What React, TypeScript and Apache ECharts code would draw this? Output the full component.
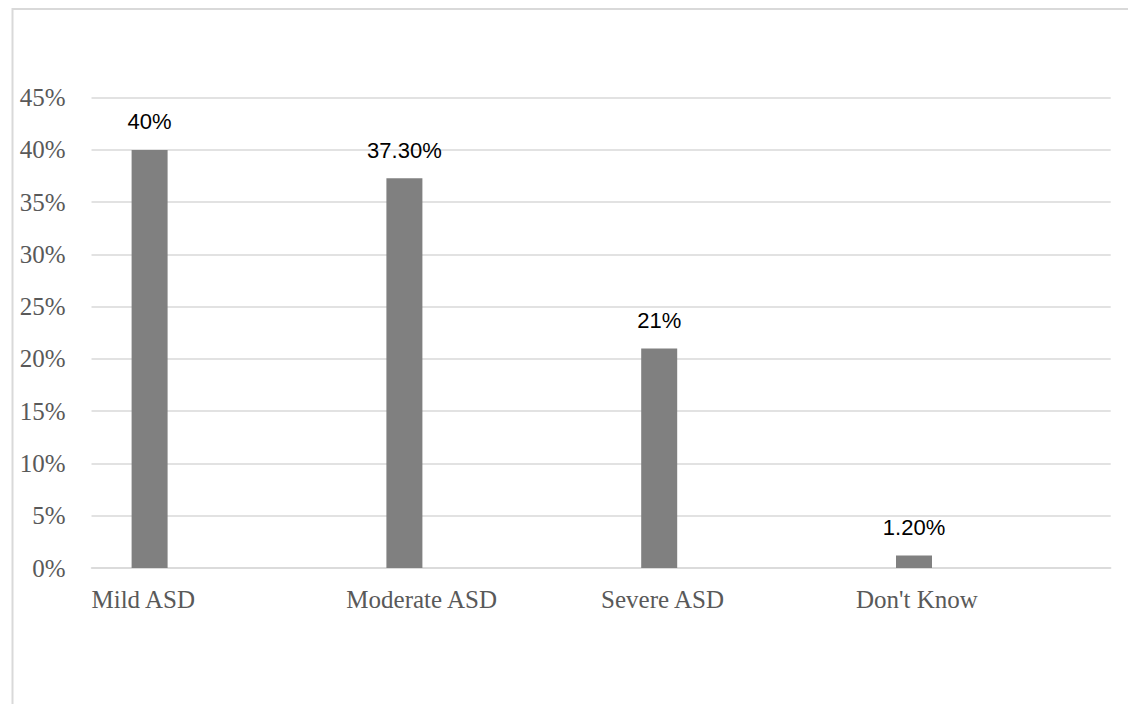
import React, { useEffect, useRef } from "react";
import * as echarts from "echarts";

const categories = ["Mild ASD", "Moderate ASD", "Severe ASD", "Don't Know"];
const values = [40, 37.3, 21, 1.2];
const valueLabels = ["40%", "37.30%", "21%", "1.20%"];
const yTicks = { min: 0, max: 45, interval: 5 };

export default function App() {
  const ref = useRef<HTMLDivElement>(null);
  useEffect(() => {
    if (!ref.current) return;
    const chart = echarts.init(ref.current, null, { renderer: "svg" });
    const grid = { left: 91.5, right: 17.3, top: 97.7, bottom: 136 };
    chart.setOption({
      animation: false,
      backgroundColor: "#ffffff",
      grid,
      graphic: [
        {
          type: "rect",
          shape: { x: 12.5, y: 9, width: 1300, height: 900 },
          style: { fill: "none", stroke: "#d9d9d9", lineWidth: 2 },
          silent: true,
        },
      ],
      xAxis: [
        {
          type: "category",
          data: categories,
          boundaryGap: true,
          axisLine: { show: true, lineStyle: { color: "#d9d9d9", width: 1.5 } },
          axisTick: { show: false },
          axisLabel: { show: false },
        },
        {
          type: "category",
          data: [...categories, ""],
          boundaryGap: false,
          position: "bottom",
          axisLine: { show: false },
          axisTick: { show: false },
          splitLine: { show: false },
          axisLabel: {
            interval: 0,
            align: "left",
            margin: 19,
            color: "#595959",
            fontFamily: "Liberation Serif",
            fontSize: 25,
          },
        },
      ],
      yAxis: {
        type: "value",
        min: yTicks.min,
        max: yTicks.max,
        interval: yTicks.interval,
        axisLine: { show: false },
        axisTick: { show: false },
        splitLine: { lineStyle: { color: "#d9d9d9", width: 1.5 } },
        axisLabel: {
          formatter: "{value}%",
          margin: 26,
          color: "#595959",
          fontFamily: "Liberation Serif",
          fontSize: 25,
        },
      },
      series: [
        {
          type: "bar",
          xAxisIndex: 0,
          data: values,
          barWidth: 36,
          barGap: "285%",
          itemStyle: { color: "#808080" },
          label: {
            show: true,
            position: "top",
            distance: 17,
            color: "#000000",
            fontFamily: "Liberation Sans",
            fontSize: 22,
            formatter: (p: any) => valueLabels[p.dataIndex],
          },
        },
        {
          type: "bar",
          xAxisIndex: 0,
          data: categories.map(() => null),
          barWidth: 36,
          itemStyle: { color: "#808080" },
        },
      ],
    });
    return () => chart.dispose();
  }, []);
  return (
    <div
      ref={ref}
      style={{ position: "absolute", left: 0, top: 0, width: 1128, height: 704 }}
    />
  );
}
